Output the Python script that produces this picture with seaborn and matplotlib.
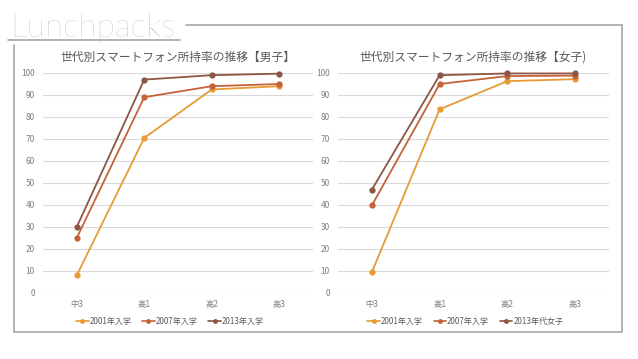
import pandas as pd
import numpy as np
import matplotlib.pyplot as plt
import seaborn as sns
from matplotlib.lines import Line2D

# Daten
grades = ['中3', '高1', '高2', '高3']

boys_2001 = [8, 70.5, 92.5, 94]
boys_2007 = [25, 89, 94, 95]
boys_2013 = [30, 97, 99, 99.7]
boys_labels = ['2001年入学', '2007年入学', '2013年入学']

girls_2001 = [9.5, 83.5, 96.3, 97.2]
girls_2007 = [39.8, 95, 98.6, 98.8]
girls_2013 = [47, 99, 99.8, 99.8]
girls_labels = ['2001年入学', '2007年入学', '2013年代女子']

colors = ['#E69B36', '#C4623A', '#8C5544']

sns.set_theme(style='white')
plt.rcParams['font.family'] = ['Noto Sans CJK JP', 'DejaVu Sans']


def to_long(series, labels):
    rows = []
    for vals, lab in zip(series, labels):
        for g, v in zip(grades, vals):
            rows.append({'grade': g, 'rate': v, 'series': lab})
    return pd.DataFrame(rows)


def draw(ax, df, labels, title):
    sns.lineplot(data=df, x='grade', y='rate', hue='series', hue_order=labels,
                 palette=colors, marker='o', markersize=4.5, markeredgewidth=0,
                 linewidth=1.3, ax=ax, sort=False)
    ax.set_xlim(-0.5, 3.5)
    ax.set_ylim(0, 100)
    ax.set_yticks(range(0, 101, 10))
    ax.grid(axis='y', color='#d9d9d9', linewidth=0.8)
    ax.set_axisbelow(True)
    for s in ax.spines.values():
        s.set_visible(False)
    ax.tick_params(axis='both', length=0, labelsize=6, labelcolor='#7f7f7f', pad=6)
    ax.tick_params(axis='x', pad=5)
    ax.set_xlabel('')
    ax.set_ylabel('')
    for line in ax.lines:
        line.set_clip_on(False)
    ax.set_title(title, fontsize=8.5, color='#595959', pad=9)
    handles, _ = ax.get_legend_handles_labels()
    for h in handles:
        h.set_markersize(3.5)
        h.set_linewidth(1.2)
    ax.legend(handles, labels, loc='upper center', bbox_to_anchor=(0.47, -0.075),
              ncol=3, frameon=False, fontsize=5.8, labelcolor='#595959',
              handlelength=1.6, handletextpad=0.1, columnspacing=1.3)


fig = plt.figure(figsize=(6.38, 3.59), dpi=100)
W, H = 638, 359
ax1 = fig.add_axes([43 / W, (H - 293) / H, 270 / W, 220 / H])
ax2 = fig.add_axes([338 / W, (H - 293) / H, 271 / W, 220 / H])

draw(ax1, to_long([boys_2001, boys_2007, boys_2013], boys_labels),
     boys_labels, '世代別スマートフォン所持率の推移【男子】')
draw(ax2, to_long([girls_2001, girls_2007, girls_2013], girls_labels),
     girls_labels, '世代別スマートフォン所持率の推移【女子)')

# Rahmen und Logo
frame = '#a6a6a6'
def fline(x0, y0, x1, y1):
    fig.add_artist(Line2D([x0 / W, x1 / W], [1 - y0 / H, 1 - y1 / H],
                          color=frame, linewidth=1.2))

fline(186, 25, 622, 25)
fline(622, 25, 622, 332)
fline(14, 332, 622, 332)
fline(14, 45, 14, 332)
fline(8, 40, 180, 40)
fig.text(10 / W, 1 - 37 / H, 'Lunchpacks', fontsize=24, color='#b5b5b5',
         fontweight='light', family=['Lato', 'DejaVu Sans'])

fig.savefig('out.png', dpi=100)
